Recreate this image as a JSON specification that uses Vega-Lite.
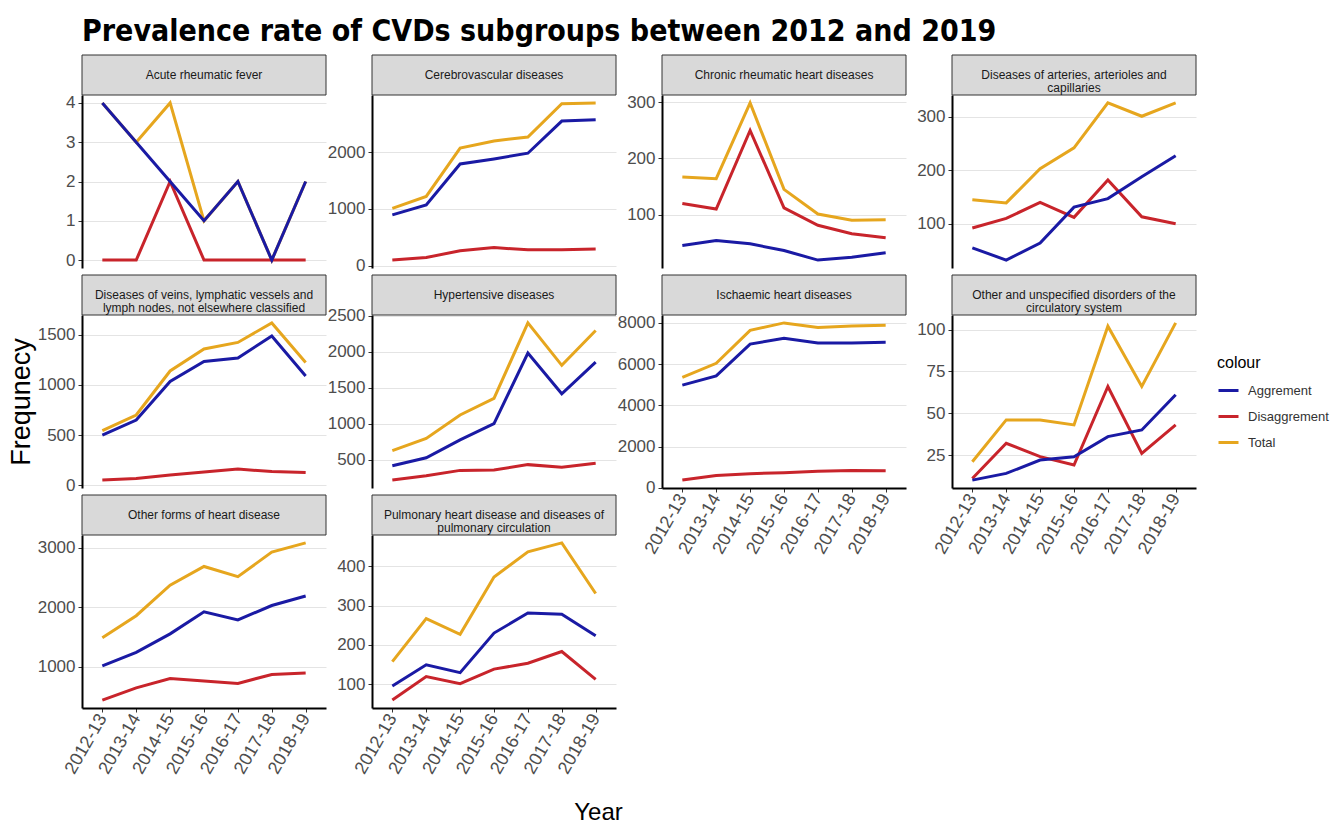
{
  "$schema": "https://vega.github.io/schema/vega-lite/v6.json",
  "padding": {"left": 7, "top": 17, "right": 5, "bottom": 5},
  "title": {"text": "Prevalence rate of CVDs subgroups between 2012 and 2019", "anchor": "start", "frame": "group", "font": "Liberation Sans Narrow, DejaVu Sans Condensed, Roboto Condensed, Liberation Sans, sans-serif", "fontSize": 30, "fontWeight": "bold", "color": "#000000", "offset": 1},
  "bounds": "flush",
  "align": {"row": "each", "column": "all"},
  "spacing": {"row": 0, "column": 46},
  "columns": 4,
  "datasets": {
    "panels": [
      {"panel": "Acute rheumatic fever"},
      {"panel": "Cerebrovascular diseases"},
      {"panel": "Chronic rheumatic heart diseases"},
      {"panel": "Diseases of arteries, arterioles and\ncapillaries"},
      {"panel": "Diseases of veins, lymphatic vessels and\nlymph nodes, not elsewhere classified"},
      {"panel": "Hypertensive diseases"},
      {"panel": "Ischaemic heart diseases"},
      {"panel": "Other and unspecified disorders of the\ncirculatory system"},
      {"panel": "Other forms of heart disease"},
      {"panel": "Pulmonary heart disease and diseases of\npulmonary circulation"}
    ],
    "cvd": [
      {"panel": "Acute rheumatic fever", "year": "2012-13", "Aggrement": 4, "Disaggrement": 0, "Total": 4},
      {"panel": "Acute rheumatic fever", "year": "2013-14", "Aggrement": 3, "Disaggrement": 0, "Total": 3},
      {"panel": "Acute rheumatic fever", "year": "2014-15", "Aggrement": 2, "Disaggrement": 2, "Total": 4},
      {"panel": "Acute rheumatic fever", "year": "2015-16", "Aggrement": 1, "Disaggrement": 0, "Total": 1},
      {"panel": "Acute rheumatic fever", "year": "2016-17", "Aggrement": 2, "Disaggrement": 0, "Total": 2},
      {"panel": "Acute rheumatic fever", "year": "2017-18", "Aggrement": 0, "Disaggrement": 0, "Total": 0},
      {"panel": "Acute rheumatic fever", "year": "2018-19", "Aggrement": 2, "Disaggrement": 0, "Total": 2},

      {"panel": "Cerebrovascular diseases", "year": "2012-13", "Aggrement": 895, "Disaggrement": 100, "Total": 1010},
      {"panel": "Cerebrovascular diseases", "year": "2013-14", "Aggrement": 1070, "Disaggrement": 145, "Total": 1220},
      {"panel": "Cerebrovascular diseases", "year": "2014-15", "Aggrement": 1790, "Disaggrement": 265, "Total": 2070},
      {"panel": "Cerebrovascular diseases", "year": "2015-16", "Aggrement": 1880, "Disaggrement": 320, "Total": 2195},
      {"panel": "Cerebrovascular diseases", "year": "2016-17", "Aggrement": 1980, "Disaggrement": 280, "Total": 2265},
      {"panel": "Cerebrovascular diseases", "year": "2017-18", "Aggrement": 2545, "Disaggrement": 280, "Total": 2850},
      {"panel": "Cerebrovascular diseases", "year": "2018-19", "Aggrement": 2570, "Disaggrement": 295, "Total": 2865},

      {"panel": "Chronic rheumatic heart diseases", "year": "2012-13", "Aggrement": 45, "Disaggrement": 120, "Total": 167},
      {"panel": "Chronic rheumatic heart diseases", "year": "2013-14", "Aggrement": 54, "Disaggrement": 110, "Total": 164},
      {"panel": "Chronic rheumatic heart diseases", "year": "2014-15", "Aggrement": 48, "Disaggrement": 250, "Total": 299},
      {"panel": "Chronic rheumatic heart diseases", "year": "2015-16", "Aggrement": 36, "Disaggrement": 112, "Total": 145},
      {"panel": "Chronic rheumatic heart diseases", "year": "2016-17", "Aggrement": 19, "Disaggrement": 81, "Total": 101},
      {"panel": "Chronic rheumatic heart diseases", "year": "2017-18", "Aggrement": 24, "Disaggrement": 66, "Total": 90},
      {"panel": "Chronic rheumatic heart diseases", "year": "2018-19", "Aggrement": 32, "Disaggrement": 59, "Total": 91},

      {"panel": "Diseases of arteries, arterioles and\ncapillaries", "year": "2012-13", "Aggrement": 55, "Disaggrement": 92, "Total": 145},
      {"panel": "Diseases of arteries, arterioles and\ncapillaries", "year": "2013-14", "Aggrement": 32, "Disaggrement": 110, "Total": 139},
      {"panel": "Diseases of arteries, arterioles and\ncapillaries", "year": "2014-15", "Aggrement": 64, "Disaggrement": 140, "Total": 203},
      {"panel": "Diseases of arteries, arterioles and\ncapillaries", "year": "2015-16", "Aggrement": 131, "Disaggrement": 112, "Total": 242},
      {"panel": "Diseases of arteries, arterioles and\ncapillaries", "year": "2016-17", "Aggrement": 147, "Disaggrement": 182, "Total": 326},
      {"panel": "Diseases of arteries, arterioles and\ncapillaries", "year": "2017-18", "Aggrement": 188, "Disaggrement": 113, "Total": 301},
      {"panel": "Diseases of arteries, arterioles and\ncapillaries", "year": "2018-19", "Aggrement": 227, "Disaggrement": 100, "Total": 326},

      {"panel": "Diseases of veins, lymphatic vessels and\nlymph nodes, not elsewhere classified", "year": "2012-13", "Aggrement": 500, "Disaggrement": 50, "Total": 545},
      {"panel": "Diseases of veins, lymphatic vessels and\nlymph nodes, not elsewhere classified", "year": "2013-14", "Aggrement": 650, "Disaggrement": 65, "Total": 700},
      {"panel": "Diseases of veins, lymphatic vessels and\nlymph nodes, not elsewhere classified", "year": "2014-15", "Aggrement": 1035, "Disaggrement": 100, "Total": 1140},
      {"panel": "Diseases of veins, lymphatic vessels and\nlymph nodes, not elsewhere classified", "year": "2015-16", "Aggrement": 1235, "Disaggrement": 130, "Total": 1360},
      {"panel": "Diseases of veins, lymphatic vessels and\nlymph nodes, not elsewhere classified", "year": "2016-17", "Aggrement": 1270, "Disaggrement": 160, "Total": 1425},
      {"panel": "Diseases of veins, lymphatic vessels and\nlymph nodes, not elsewhere classified", "year": "2017-18", "Aggrement": 1490, "Disaggrement": 135, "Total": 1620},
      {"panel": "Diseases of veins, lymphatic vessels and\nlymph nodes, not elsewhere classified", "year": "2018-19", "Aggrement": 1090, "Disaggrement": 125, "Total": 1225},

      {"panel": "Hypertensive diseases", "year": "2012-13", "Aggrement": 415, "Disaggrement": 215, "Total": 625},
      {"panel": "Hypertensive diseases", "year": "2013-14", "Aggrement": 525, "Disaggrement": 275, "Total": 795},
      {"panel": "Hypertensive diseases", "year": "2014-15", "Aggrement": 775, "Disaggrement": 350, "Total": 1120},
      {"panel": "Hypertensive diseases", "year": "2015-16", "Aggrement": 1000, "Disaggrement": 355, "Total": 1350},
      {"panel": "Hypertensive diseases", "year": "2016-17", "Aggrement": 1980, "Disaggrement": 430, "Total": 2400},
      {"panel": "Hypertensive diseases", "year": "2017-18", "Aggrement": 1415, "Disaggrement": 395, "Total": 1810},
      {"panel": "Hypertensive diseases", "year": "2018-19", "Aggrement": 1855, "Disaggrement": 450, "Total": 2295},

      {"panel": "Ischaemic heart diseases", "year": "2012-13", "Aggrement": 4980, "Disaggrement": 375, "Total": 5360},
      {"panel": "Ischaemic heart diseases", "year": "2013-14", "Aggrement": 5430, "Disaggrement": 600, "Total": 6040},
      {"panel": "Ischaemic heart diseases", "year": "2014-15", "Aggrement": 6970, "Disaggrement": 685, "Total": 7640},
      {"panel": "Ischaemic heart diseases", "year": "2015-16", "Aggrement": 7260, "Disaggrement": 735, "Total": 8000},
      {"panel": "Ischaemic heart diseases", "year": "2016-17", "Aggrement": 7020, "Disaggrement": 800, "Total": 7780},
      {"panel": "Ischaemic heart diseases", "year": "2017-18", "Aggrement": 7020, "Disaggrement": 840, "Total": 7850},
      {"panel": "Ischaemic heart diseases", "year": "2018-19", "Aggrement": 7060, "Disaggrement": 830, "Total": 7890},

      {"panel": "Other and unspecified disorders of the\ncirculatory system", "year": "2012-13", "Aggrement": 10, "Disaggrement": 11, "Total": 21},
      {"panel": "Other and unspecified disorders of the\ncirculatory system", "year": "2013-14", "Aggrement": 14, "Disaggrement": 32, "Total": 46},
      {"panel": "Other and unspecified disorders of the\ncirculatory system", "year": "2014-15", "Aggrement": 22, "Disaggrement": 24, "Total": 46},
      {"panel": "Other and unspecified disorders of the\ncirculatory system", "year": "2015-16", "Aggrement": 24, "Disaggrement": 19, "Total": 43},
      {"panel": "Other and unspecified disorders of the\ncirculatory system", "year": "2016-17", "Aggrement": 36, "Disaggrement": 66, "Total": 102},
      {"panel": "Other and unspecified disorders of the\ncirculatory system", "year": "2017-18", "Aggrement": 40, "Disaggrement": 26, "Total": 66},
      {"panel": "Other and unspecified disorders of the\ncirculatory system", "year": "2018-19", "Aggrement": 61, "Disaggrement": 43, "Total": 104},

      {"panel": "Other forms of heart disease", "year": "2012-13", "Aggrement": 1020, "Disaggrement": 445, "Total": 1490},
      {"panel": "Other forms of heart disease", "year": "2013-14", "Aggrement": 1245, "Disaggrement": 650, "Total": 1860},
      {"panel": "Other forms of heart disease", "year": "2014-15", "Aggrement": 1555, "Disaggrement": 805, "Total": 2370},
      {"panel": "Other forms of heart disease", "year": "2015-16", "Aggrement": 1925, "Disaggrement": 765, "Total": 2685},
      {"panel": "Other forms of heart disease", "year": "2016-17", "Aggrement": 1790, "Disaggrement": 725, "Total": 2515},
      {"panel": "Other forms of heart disease", "year": "2017-18", "Aggrement": 2030, "Disaggrement": 875, "Total": 2925},
      {"panel": "Other forms of heart disease", "year": "2018-19", "Aggrement": 2190, "Disaggrement": 900, "Total": 3080},

      {"panel": "Pulmonary heart disease and diseases of\npulmonary circulation", "year": "2012-13", "Aggrement": 95, "Disaggrement": 59, "Total": 157},
      {"panel": "Pulmonary heart disease and diseases of\npulmonary circulation", "year": "2013-14", "Aggrement": 149, "Disaggrement": 119, "Total": 267},
      {"panel": "Pulmonary heart disease and diseases of\npulmonary circulation", "year": "2014-15", "Aggrement": 129, "Disaggrement": 101, "Total": 227},
      {"panel": "Pulmonary heart disease and diseases of\npulmonary circulation", "year": "2015-16", "Aggrement": 230, "Disaggrement": 138, "Total": 373},
      {"panel": "Pulmonary heart disease and diseases of\npulmonary circulation", "year": "2016-17", "Aggrement": 281, "Disaggrement": 153, "Total": 437},
      {"panel": "Pulmonary heart disease and diseases of\npulmonary circulation", "year": "2017-18", "Aggrement": 278, "Disaggrement": 183, "Total": 460},
      {"panel": "Pulmonary heart disease and diseases of\npulmonary circulation", "year": "2018-19", "Aggrement": 223, "Disaggrement": 112, "Total": 331}
    ]
  },
  "concat": [
    {"width": 244, "height": 47, "data": {"name": "panels"}, "transform": [{"filter": {"field": "panel", "equal": "Acute rheumatic fever"}}],
     "layer": [
       {"mark": {"type": "rect", "fill": "#d9d9d9", "stroke": "#333333", "strokeWidth": 1}, "encoding": {"y": {"datum": 0, "type": "quantitative", "scale": {"domain": [0, 47], "nice": false, "zero": false}, "axis": null}, "y2": {"datum": 40}}},
       {"mark": {"type": "text", "fontSize": 12, "font": "Liberation Sans", "color": "#1a1a1a", "lineBreak": "\n", "lineHeight": 13}, "encoding": {"y": {"datum": 20, "type": "quantitative"}, "text": {"field": "panel"}}}
     ]},
    {"width": 244, "height": 47, "data": {"name": "panels"}, "transform": [{"filter": {"field": "panel", "equal": "Cerebrovascular diseases"}}],
     "layer": [
       {"mark": {"type": "rect", "fill": "#d9d9d9", "stroke": "#333333", "strokeWidth": 1}, "encoding": {"y": {"datum": 0, "type": "quantitative", "scale": {"domain": [0, 47], "nice": false, "zero": false}, "axis": null}, "y2": {"datum": 40}}},
       {"mark": {"type": "text", "fontSize": 12, "font": "Liberation Sans", "color": "#1a1a1a", "lineBreak": "\n", "lineHeight": 13}, "encoding": {"y": {"datum": 20, "type": "quantitative"}, "text": {"field": "panel"}}}
     ]},
    {"width": 244, "height": 47, "data": {"name": "panels"}, "transform": [{"filter": {"field": "panel", "equal": "Chronic rheumatic heart diseases"}}],
     "layer": [
       {"mark": {"type": "rect", "fill": "#d9d9d9", "stroke": "#333333", "strokeWidth": 1}, "encoding": {"y": {"datum": 0, "type": "quantitative", "scale": {"domain": [0, 47], "nice": false, "zero": false}, "axis": null}, "y2": {"datum": 40}}},
       {"mark": {"type": "text", "fontSize": 12, "font": "Liberation Sans", "color": "#1a1a1a", "lineBreak": "\n", "lineHeight": 13}, "encoding": {"y": {"datum": 20, "type": "quantitative"}, "text": {"field": "panel"}}}
     ]},
    {"width": 244, "height": 47, "data": {"name": "panels"}, "transform": [{"filter": {"field": "panel", "equal": "Diseases of arteries, arterioles and\ncapillaries"}}],
     "layer": [
       {"mark": {"type": "rect", "fill": "#d9d9d9", "stroke": "#333333", "strokeWidth": 1}, "encoding": {"y": {"datum": 0, "type": "quantitative", "scale": {"domain": [0, 47], "nice": false, "zero": false}, "axis": null}, "y2": {"datum": 40}}},
       {"mark": {"type": "text", "fontSize": 12, "font": "Liberation Sans", "color": "#1a1a1a", "lineBreak": "\n", "lineHeight": 13}, "encoding": {"y": {"datum": 20, "type": "quantitative"}, "text": {"field": "panel"}}}
     ]},

    {"width": 244, "height": 173, "data": {"name": "cvd"},
     "transform": [{"filter": {"field": "panel", "equal": "Acute rheumatic fever"}}, {"fold": ["Total", "Disaggrement", "Aggrement"], "as": ["colour", "value"]}],
     "mark": {"type": "line", "strokeWidth": 3},
     "encoding": {
       "x": {"field": "year", "type": "ordinal", "scale": {"type": "point", "padding": 0.6}, "axis": {"labels": false, "ticks": false, "domain": false, "title": null}},
       "y": {"field": "value", "type": "quantitative", "scale": {"zero": false, "nice": false, "padding": 7.9}, "axis": {"values": [0, 1, 2, 3, 4], "format": "d", "title": null}},
       "color": {"field": "colour", "type": "nominal", "scale": {"domain": ["Aggrement", "Disaggrement", "Total"], "range": ["#1a1aa4", "#c8242b", "#e6a61e"]}, "legend": {"orient": "none", "legendX": 1135, "legendY": 307, "title": "colour"}}
     }},
    {"width": 244, "height": 173, "data": {"name": "cvd"},
     "transform": [{"filter": {"field": "panel", "equal": "Cerebrovascular diseases"}}, {"fold": ["Total", "Disaggrement", "Aggrement"], "as": ["colour", "value"]}],
     "mark": {"type": "line", "strokeWidth": 3},
     "encoding": {
       "x": {"field": "year", "type": "ordinal", "scale": {"type": "point", "padding": 0.6}, "axis": {"labels": false, "ticks": false, "domain": false, "title": null}},
       "y": {"field": "value", "type": "quantitative", "scale": {"zero": false, "nice": false, "padding": 7.9}, "axis": {"values": [0, 1000, 2000], "format": "d", "title": null}},
       "color": {"field": "colour", "type": "nominal", "scale": {"domain": ["Aggrement", "Disaggrement", "Total"], "range": ["#1a1aa4", "#c8242b", "#e6a61e"]}, "legend": {"orient": "none", "legendX": 1135, "legendY": 307, "title": "colour"}}
     }},
    {"width": 244, "height": 173, "data": {"name": "cvd"},
     "transform": [{"filter": {"field": "panel", "equal": "Chronic rheumatic heart diseases"}}, {"fold": ["Total", "Disaggrement", "Aggrement"], "as": ["colour", "value"]}],
     "mark": {"type": "line", "strokeWidth": 3},
     "encoding": {
       "x": {"field": "year", "type": "ordinal", "scale": {"type": "point", "padding": 0.6}, "axis": {"labels": false, "ticks": false, "domain": false, "title": null}},
       "y": {"field": "value", "type": "quantitative", "scale": {"zero": false, "nice": false, "padding": 7.9}, "axis": {"values": [100, 200, 300], "format": "d", "title": null}},
       "color": {"field": "colour", "type": "nominal", "scale": {"domain": ["Aggrement", "Disaggrement", "Total"], "range": ["#1a1aa4", "#c8242b", "#e6a61e"]}, "legend": {"orient": "none", "legendX": 1135, "legendY": 307, "title": "colour"}}
     }},
    {"width": 244, "height": 173, "data": {"name": "cvd"},
     "transform": [{"filter": {"field": "panel", "equal": "Diseases of arteries, arterioles and\ncapillaries"}}, {"fold": ["Total", "Disaggrement", "Aggrement"], "as": ["colour", "value"]}],
     "mark": {"type": "line", "strokeWidth": 3},
     "encoding": {
       "x": {"field": "year", "type": "ordinal", "scale": {"type": "point", "padding": 0.6}, "axis": {"labels": false, "ticks": false, "domain": false, "title": null}},
       "y": {"field": "value", "type": "quantitative", "scale": {"zero": false, "nice": false, "padding": 7.9}, "axis": {"values": [100, 200, 300], "format": "d", "title": null}},
       "color": {"field": "colour", "type": "nominal", "scale": {"domain": ["Aggrement", "Disaggrement", "Total"], "range": ["#1a1aa4", "#c8242b", "#e6a61e"]}, "legend": {"orient": "none", "legendX": 1135, "legendY": 307, "title": "colour"}}
     }},

    {"width": 244, "height": 47, "data": {"name": "panels"}, "transform": [{"filter": {"field": "panel", "equal": "Diseases of veins, lymphatic vessels and\nlymph nodes, not elsewhere classified"}}],
     "layer": [
       {"mark": {"type": "rect", "fill": "#d9d9d9", "stroke": "#333333", "strokeWidth": 1}, "encoding": {"y": {"datum": 0, "type": "quantitative", "scale": {"domain": [0, 47], "nice": false, "zero": false}, "axis": null}, "y2": {"datum": 40}}},
       {"mark": {"type": "text", "fontSize": 12, "font": "Liberation Sans", "color": "#1a1a1a", "lineBreak": "\n", "lineHeight": 13}, "encoding": {"y": {"datum": 20, "type": "quantitative"}, "text": {"field": "panel"}}}
     ]},
    {"width": 244, "height": 47, "data": {"name": "panels"}, "transform": [{"filter": {"field": "panel", "equal": "Hypertensive diseases"}}],
     "layer": [
       {"mark": {"type": "rect", "fill": "#d9d9d9", "stroke": "#333333", "strokeWidth": 1}, "encoding": {"y": {"datum": 0, "type": "quantitative", "scale": {"domain": [0, 47], "nice": false, "zero": false}, "axis": null}, "y2": {"datum": 40}}},
       {"mark": {"type": "text", "fontSize": 12, "font": "Liberation Sans", "color": "#1a1a1a", "lineBreak": "\n", "lineHeight": 13}, "encoding": {"y": {"datum": 20, "type": "quantitative"}, "text": {"field": "panel"}}}
     ]},
    {"width": 244, "height": 47, "data": {"name": "panels"}, "transform": [{"filter": {"field": "panel", "equal": "Ischaemic heart diseases"}}],
     "layer": [
       {"mark": {"type": "rect", "fill": "#d9d9d9", "stroke": "#333333", "strokeWidth": 1}, "encoding": {"y": {"datum": 0, "type": "quantitative", "scale": {"domain": [0, 47], "nice": false, "zero": false}, "axis": null}, "y2": {"datum": 40}}},
       {"mark": {"type": "text", "fontSize": 12, "font": "Liberation Sans", "color": "#1a1a1a", "lineBreak": "\n", "lineHeight": 13}, "encoding": {"y": {"datum": 20, "type": "quantitative"}, "text": {"field": "panel"}}}
     ]},
    {"width": 244, "height": 47, "data": {"name": "panels"}, "transform": [{"filter": {"field": "panel", "equal": "Other and unspecified disorders of the\ncirculatory system"}}],
     "layer": [
       {"mark": {"type": "rect", "fill": "#d9d9d9", "stroke": "#333333", "strokeWidth": 1}, "encoding": {"y": {"datum": 0, "type": "quantitative", "scale": {"domain": [0, 47], "nice": false, "zero": false}, "axis": null}, "y2": {"datum": 40}}},
       {"mark": {"type": "text", "fontSize": 12, "font": "Liberation Sans", "color": "#1a1a1a", "lineBreak": "\n", "lineHeight": 13}, "encoding": {"y": {"datum": 20, "type": "quantitative"}, "text": {"field": "panel"}}}
     ]},

    {"width": 244, "height": 173, "data": {"name": "cvd"},
     "transform": [{"filter": {"field": "panel", "equal": "Diseases of veins, lymphatic vessels and\nlymph nodes, not elsewhere classified"}}, {"fold": ["Total", "Disaggrement", "Aggrement"], "as": ["colour", "value"]}],
     "mark": {"type": "line", "strokeWidth": 3},
     "encoding": {
       "x": {"field": "year", "type": "ordinal", "scale": {"type": "point", "padding": 0.6}, "axis": {"labels": false, "ticks": false, "domain": false, "title": null}},
       "y": {"field": "value", "type": "quantitative", "scale": {"zero": false, "nice": false, "padding": 7.9}, "axis": {"values": [0, 500, 1000, 1500], "format": "d", "title": "Frequnecy", "titleFontSize": 27, "titlePadding": 2}},
       "color": {"field": "colour", "type": "nominal", "scale": {"domain": ["Aggrement", "Disaggrement", "Total"], "range": ["#1a1aa4", "#c8242b", "#e6a61e"]}, "legend": {"orient": "none", "legendX": 1135, "legendY": 307, "title": "colour"}}
     }},
    {"width": 244, "height": 173, "data": {"name": "cvd"},
     "transform": [{"filter": {"field": "panel", "equal": "Hypertensive diseases"}}, {"fold": ["Total", "Disaggrement", "Aggrement"], "as": ["colour", "value"]}],
     "mark": {"type": "line", "strokeWidth": 3},
     "encoding": {
       "x": {"field": "year", "type": "ordinal", "scale": {"type": "point", "padding": 0.6}, "axis": {"labels": false, "ticks": false, "domain": false, "title": null}},
       "y": {"field": "value", "type": "quantitative", "scale": {"zero": false, "nice": false, "padding": 7.9}, "axis": {"values": [500, 1000, 1500, 2000, 2500], "format": "d", "title": null}},
       "color": {"field": "colour", "type": "nominal", "scale": {"domain": ["Aggrement", "Disaggrement", "Total"], "range": ["#1a1aa4", "#c8242b", "#e6a61e"]}, "legend": {"orient": "none", "legendX": 1135, "legendY": 307, "title": "colour"}}
     }},
    {"width": 244, "height": 173, "data": {"name": "cvd"},
     "transform": [{"filter": {"field": "panel", "equal": "Ischaemic heart diseases"}}, {"fold": ["Total", "Disaggrement", "Aggrement"], "as": ["colour", "value"]}],
     "mark": {"type": "line", "strokeWidth": 3},
     "encoding": {
       "x": {"field": "year", "type": "ordinal", "scale": {"type": "point", "padding": 0.6}, "axis": {"labelAngle": -60, "labelAlign": "right", "labelBaseline": "middle", "labelFontSize": 18, "title": null}},
       "y": {"field": "value", "type": "quantitative", "scale": {"zero": false, "nice": false, "padding": 7.9}, "axis": {"values": [0, 2000, 4000, 6000, 8000], "format": "d", "title": null}},
       "color": {"field": "colour", "type": "nominal", "scale": {"domain": ["Aggrement", "Disaggrement", "Total"], "range": ["#1a1aa4", "#c8242b", "#e6a61e"]}, "legend": {"orient": "none", "legendX": 1135, "legendY": 307, "title": "colour"}}
     }},
    {"width": 244, "height": 173, "data": {"name": "cvd"},
     "transform": [{"filter": {"field": "panel", "equal": "Other and unspecified disorders of the\ncirculatory system"}}, {"fold": ["Total", "Disaggrement", "Aggrement"], "as": ["colour", "value"]}],
     "mark": {"type": "line", "strokeWidth": 3},
     "encoding": {
       "x": {"field": "year", "type": "ordinal", "scale": {"type": "point", "padding": 0.6}, "axis": {"labelAngle": -60, "labelAlign": "right", "labelBaseline": "middle", "labelFontSize": 18, "title": null}},
       "y": {"field": "value", "type": "quantitative", "scale": {"zero": false, "nice": false, "padding": 7.9}, "axis": {"values": [25, 50, 75, 100], "format": "d", "title": null}},
       "color": {"field": "colour", "type": "nominal", "scale": {"domain": ["Aggrement", "Disaggrement", "Total"], "range": ["#1a1aa4", "#c8242b", "#e6a61e"]}, "legend": {"orient": "none", "legendX": 1135, "legendY": 307, "title": "colour"}}
     }},

    {"width": 244, "height": 47, "data": {"name": "panels"}, "transform": [{"filter": {"field": "panel", "equal": "Other forms of heart disease"}}],
     "layer": [
       {"mark": {"type": "rect", "fill": "#d9d9d9", "stroke": "#333333", "strokeWidth": 1}, "encoding": {"y": {"datum": 0, "type": "quantitative", "scale": {"domain": [0, 47], "nice": false, "zero": false}, "axis": null}, "y2": {"datum": 40}}},
       {"mark": {"type": "text", "fontSize": 12, "font": "Liberation Sans", "color": "#1a1a1a", "lineBreak": "\n", "lineHeight": 13}, "encoding": {"y": {"datum": 20, "type": "quantitative"}, "text": {"field": "panel"}}}
     ]},
    {"width": 244, "height": 47, "data": {"name": "panels"}, "transform": [{"filter": {"field": "panel", "equal": "Pulmonary heart disease and diseases of\npulmonary circulation"}}],
     "layer": [
       {"mark": {"type": "rect", "fill": "#d9d9d9", "stroke": "#333333", "strokeWidth": 1}, "encoding": {"y": {"datum": 0, "type": "quantitative", "scale": {"domain": [0, 47], "nice": false, "zero": false}, "axis": null}, "y2": {"datum": 40}}},
       {"mark": {"type": "text", "fontSize": 12, "font": "Liberation Sans", "color": "#1a1a1a", "lineBreak": "\n", "lineHeight": 13}, "encoding": {"y": {"datum": 20, "type": "quantitative"}, "text": {"field": "panel"}}}
     ]},
    {"width": 244, "height": 47, "data": {"values": []}, "mark": "rect", "encoding": {}},
    {"width": 244, "height": 47, "data": {"values": []}, "mark": "rect", "encoding": {}},

    {"width": 244, "height": 173, "data": {"name": "cvd"},
     "transform": [{"filter": {"field": "panel", "equal": "Other forms of heart disease"}}, {"fold": ["Total", "Disaggrement", "Aggrement"], "as": ["colour", "value"]}],
     "mark": {"type": "line", "strokeWidth": 3},
     "encoding": {
       "x": {"field": "year", "type": "ordinal", "scale": {"type": "point", "padding": 0.6}, "axis": {"labelAngle": -60, "labelAlign": "right", "labelBaseline": "middle", "labelFontSize": 18, "title": null}},
       "y": {"field": "value", "type": "quantitative", "scale": {"zero": false, "nice": false, "padding": 7.9}, "axis": {"values": [1000, 2000, 3000], "format": "d", "title": null}},
       "color": {"field": "colour", "type": "nominal", "scale": {"domain": ["Aggrement", "Disaggrement", "Total"], "range": ["#1a1aa4", "#c8242b", "#e6a61e"]}, "legend": {"orient": "none", "legendX": 1135, "legendY": 307, "title": "colour"}}
     }},
    {"width": 244, "height": 173, "data": {"name": "cvd"},
     "transform": [{"filter": {"field": "panel", "equal": "Pulmonary heart disease and diseases of\npulmonary circulation"}}, {"fold": ["Total", "Disaggrement", "Aggrement"], "as": ["colour", "value"]}],
     "mark": {"type": "line", "strokeWidth": 3},
     "encoding": {
       "x": {"field": "year", "type": "ordinal", "scale": {"type": "point", "padding": 0.6}, "axis": {"labelAngle": -60, "labelAlign": "right", "labelBaseline": "middle", "labelFontSize": 18, "title": "Year", "titleFontSize": 24, "titleX": 226, "titleY": 104, "titleBaseline": "middle", "titleAlign": "center"}},
       "y": {"field": "value", "type": "quantitative", "scale": {"zero": false, "nice": false, "padding": 7.9}, "axis": {"values": [100, 200, 300, 400], "format": "d", "title": null}},
       "color": {"field": "colour", "type": "nominal", "scale": {"domain": ["Aggrement", "Disaggrement", "Total"], "range": ["#1a1aa4", "#c8242b", "#e6a61e"]}, "legend": {"orient": "none", "legendX": 1135, "legendY": 307, "title": "colour"}}
     }}
  ],
  "resolve": {"scale": {"y": "independent", "x": "independent"}},
  "config": {
    "view": {"stroke": null},
    "font": "Liberation Sans",
    "axis": {"labelFont": "Liberation Sans", "labelFontSize": 17, "labelColor": "#4d4d4d", "gridColor": "#e4e4e4", "gridWidth": 1, "tickColor": "#333333", "tickSize": 4, "tickWidth": 1, "domainColor": "#000000", "domainWidth": 2, "labelPadding": 3, "titleFont": "Liberation Sans", "titleFontWeight": "normal", "titleColor": "#000000"},
    "legend": {"titleFont": "Liberation Sans", "titleFontSize": 16, "titleFontWeight": "normal", "titleColor": "#000000", "labelFont": "Liberation Sans", "labelFontSize": 13, "labelColor": "#333333", "symbolType": "stroke", "symbolSize": 400, "symbolStrokeWidth": 3, "rowPadding": 7, "titlePadding": 8, "labelOffset": 8}
  }
}
